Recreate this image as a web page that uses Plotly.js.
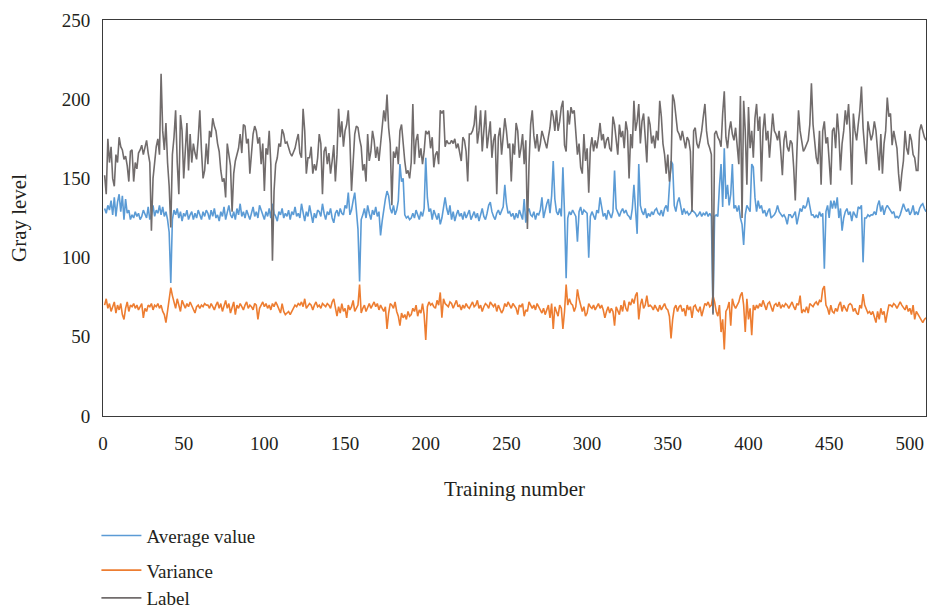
<!DOCTYPE html>
<html>
<head>
<meta charset="utf-8">
<script src="https://cdn.plot.ly/plotly-3.0.1.min.js"></script>
<style>
  html, body { margin: 0; padding: 0; background: #ffffff; }
  #chart { width: 929px; height: 610px; }
</style>
</head>
<body>
<div id="chart"></div>
<script>
// Training number ticks and gray level ticks
const xTicks = [0, 50, 100, 150, 200, 250, 300, 350, 400, 450, 500];
const yTicks = [0, 50, 100, 150, 200, 250];

// Average value (blue), training numbers 1..510
const averageValue = [
  131,128,133,130,136,127,138,126,135,140,129,139,124,137,128,130,124,127,125,129,
  126,128,124,126,130,127,125,132,124,127,133,126,130,128,133,127,132,126,129,124,
  116,84,124,130,127,131,125,129,123,128,126,130,124,127,129,124,128,125,130,127,
  124,129,126,130,
  128,124,130,126,131,125,127,123,129,126,132,124,128,133,127,125,129,124,131,127,
  134,126,129,125,130,127,124,128,132,126,129,125,133,130,127,124,129,126,131,125,
  134,128,126,123,129,127,131,125,128,126,130,124,129,127,132,126,128,125,134,127,
  123,129,126,
  133,127,122,128,125,130,129,126,134,128,124,129,127,131,125,122,128,130,126,131,
  128,127,133,131,141,127,130,136,141,130,118,85,124,127,131,125,133,128,124,130,
  127,132,126,129,114,123,131,137,142,139,131,128,133,127,130,136,159,148,150,127,
  125,126,124,125,
  128,125,130,127,124,129,126,131,163,138,129,131,124,130,127,124,128,121,125,133,
  138,131,127,133,124,129,123,127,130,126,128,124,129,125,127,130,124,126,129,125,
  128,123,127,131,126,124,128,133,135,129,126,124,128,130,127,129,132,146,134,128,
  129,126,128,124,
  128,125,130,127,124,137,122,129,131,127,126,129,124,128,127,130,138,125,130,134,
  137,128,139,161,137,129,127,131,126,157,128,87,125,129,127,130,128,126,110,129,
  132,127,130,129,128,100,126,129,127,124,130,128,138,131,126,128,124,130,127,125,
  129,155,131,128,
  126,129,131,128,130,127,126,124,131,146,129,115,159,133,129,127,131,125,128,126,
  129,127,130,131,128,127,130,126,131,133,129,146,161,159,133,129,135,138,133,127,
  131,128,129,127,128,130,129,128,126,127,129,126,128,127,129,126,128,126,65,126,
  127,126,145,159,
  132,169,137,146,133,140,159,131,133,129,133,125,121,108,127,133,131,129,159,157,
  138,129,136,131,133,128,130,126,129,131,125,126,127,129,133,129,127,126,127,125,
  121,127,127,125,127,129,121,127,131,129,133,131,133,138,131,127,127,125,127,125,
  129,126,128,
  93,129,133,125,136,131,136,131,138,125,131,117,125,129,131,127,129,123,129,127,
  125,132,131,133,97,125,125,127,126,127,127,129,127,133,136,129,133,127,131,133,
  131,129,128,129,125,126,125,127,131,134,131,129,131,127,129,133,127,129,127,131,
  133,134,131,129
];

// Variance (orange)
const varianceValue = [
  70,74,68,71,66,69,72,65,70,67,71,64,61,68,72,66,70,69,71,68,
  70,67,69,71,62,68,66,70,69,71,67,70,69,71,68,70,66,64,59,67,
  72,81,76,72,68,74,70,66,73,70,68,71,69,72,70,67,65,69,70,68,
  70,69,71,70,
  70,68,71,69,67,70,72,68,71,66,70,73,68,71,65,69,72,64,70,68,
  71,69,67,70,72,68,70,69,67,71,70,61,68,70,72,69,71,68,70,67,
  71,69,72,70,68,65,71,66,64,65,66,64,66,68,70,69,71,70,72,69,
  74,68,70,
  71,70,67,70,72,69,70,68,71,70,69,71,70,68,72,74,67,63,69,65,
  71,66,68,62,70,67,69,73,66,68,70,83,65,68,70,66,69,71,68,70,
  72,69,71,67,70,68,66,69,55,65,71,70,68,72,66,63,57,65,62,64,
  61,66,63,64,
  68,66,70,63,67,65,71,64,48,69,72,70,71,69,68,73,70,78,62,74,
  71,70,69,72,71,68,70,73,69,70,67,70,68,71,69,68,70,72,69,70,
  73,68,70,66,69,71,70,68,72,70,69,71,66,70,68,65,67,71,69,72,
  70,68,71,69,
  68,64,70,69,71,63,67,66,72,70,68,70,67,71,69,66,65,68,64,67,
  70,62,71,55,69,66,63,70,68,55,66,83,70,74,71,70,66,69,80,74,
  70,66,69,63,65,71,69,68,70,67,69,71,68,70,67,62,66,69,65,68,
  66,57,69,67,
  64,70,66,73,68,66,72,70,74,71,76,78,61,70,74,68,70,76,69,70,
  69,67,70,68,66,70,67,69,71,68,67,63,49,61,68,70,66,69,70,66,
  68,63,70,67,69,62,69,70,67,66,69,63,68,71,70,72,69,70,76,72,
  66,63,70,53,
  61,42,66,68,72,57,74,70,68,70,72,76,78,70,53,74,61,68,51,70,
  67,70,68,71,69,73,70,67,71,72,69,66,70,71,69,72,68,70,69,71,
  70,68,70,72,69,67,71,70,76,65,67,66,69,65,71,70,69,71,72,70,
  73,72,80,
  82,70,68,64,70,66,65,68,66,70,72,66,70,68,66,70,71,70,66,68,
  65,64,70,68,77,70,68,65,66,64,66,62,59,66,61,68,64,66,59,65,
  70,70,69,71,70,68,70,72,70,68,67,70,66,68,64,70,61,66,64,62,
  60,59,61,62
];

// Label (gray)
const labelValue = [
  152,140,175,160,170,150,145,165,160,176,170,168,162,164,158,148,167,168,148,160,
  156,166,168,171,165,170,174,166,160,117,150,160,170,175,165,216,180,168,185,160,
  145,119,165,176,193,160,140,190,180,150,168,185,155,178,160,172,166,162,175,193,
  168,150,155,172,
  159,180,176,188,183,180,172,167,155,148,150,138,172,165,158,129,153,161,165,169,
  178,166,184,183,172,175,153,165,178,183,180,172,176,159,172,142,169,165,180,159,
  98,142,159,163,172,170,181,178,172,173,169,166,164,166,169,174,178,166,163,194,
  180,153,163,
  163,170,153,159,155,163,178,172,140,167,170,159,166,153,161,171,148,165,194,176,
  186,170,180,184,193,174,142,165,178,183,182,175,170,155,159,148,178,161,167,180,
  174,163,170,161,172,180,193,186,203,182,172,133,167,163,170,159,180,184,170,161,
  153,155,150,160,
  197,159,174,178,163,169,159,167,180,178,180,169,176,157,165,167,159,193,191,193,
  170,174,172,172,174,172,175,169,172,167,161,176,174,167,148,178,178,180,184,196,
  172,180,193,167,180,193,169,176,186,163,174,178,140,176,182,165,178,188,180,169,
  172,148,172,165,
  185,180,163,169,178,159,174,118,159,184,193,177,169,178,167,172,180,176,172,169,
  176,182,193,189,180,193,180,186,195,199,171,167,193,184,195,191,193,180,165,172,
  157,153,178,161,169,141,169,176,167,174,169,176,185,174,178,169,174,176,169,167,
  189,184,172,165,
  184,176,180,169,186,180,150,178,169,199,180,186,197,172,186,191,176,160,189,184,
  172,177,169,180,174,199,189,172,165,153,165,148,157,203,199,189,180,178,174,180,
  174,169,176,174,167,129,180,182,172,169,174,180,189,197,180,172,169,165,64,178,
  180,176,174,170,
  191,205,176,169,180,186,178,174,182,169,159,202,125,199,180,146,195,169,180,163,
  188,197,180,189,148,180,191,174,180,163,178,191,180,178,174,180,167,152,174,180,
  170,167,174,172,157,136,167,193,180,172,167,169,172,174,184,210,184,174,163,159,
  180,146,180,
  186,172,176,159,146,180,182,169,191,178,155,172,180,193,184,197,178,146,191,180,
  174,184,193,208,182,169,159,186,180,174,178,186,180,167,155,178,153,172,180,201,
  189,191,171,180,174,169,153,142,153,161,180,169,165,178,174,165,163,155,155,180,
  184,180,176,174
];

const seriesNames = ['Average value', 'Variance', 'Label'];
const seriesColors = ['#5b9bd5', '#ed7d31', '#716c6c'];
const seriesData = [averageValue, varianceValue, labelValue];
const groups = ['a', 'b', 'b'];

const serif = 'Liberation Serif, Times New Roman, serif';
const textColor = '#231f20';

const traces = seriesData.map((vals, i) => ({
  type: 'scatter',
  mode: 'lines',
  name: seriesNames[i],
  y: vals,
  x0: 1,
  dx: 1,
  legendgroup: groups[i],
  line: { color: seriesColors[i], width: 1.6 },
  hoverinfo: 'skip'
}));

const layout = {
  width: 929,
  height: 610,
  margin: { l: 103, r: 3, t: 20, b: 194, autoexpand: false },
  paper_bgcolor: '#ffffff',
  plot_bgcolor: '#ffffff',
  showlegend: true,
  font: { family: serif, color: textColor },
  xaxis: {
    range: [0, 510],
    tickvals: xTicks,
    ticktext: xTicks.map(String),
    showgrid: false,
    zeroline: false,
    showline: true,
    mirror: true,
    linecolor: '#3a3a3a',
    linewidth: 1,
    ticks: '',
    automargin: false,
    ticklabelstandoff: 10,
    tickfont: { family: serif, size: 19, color: textColor },
    title: { text: 'Training number', font: { family: serif, size: 21, color: textColor }, standoff: 28 }
  },
  yaxis: {
    range: [0, 250],
    tickvals: yTicks,
    ticktext: yTicks.map(String),
    showgrid: false,
    zeroline: false,
    showline: true,
    mirror: true,
    linecolor: '#3a3a3a',
    linewidth: 1,
    ticks: '',
    automargin: false,
    ticklabelstandoff: 8,
    tickfont: { family: serif, size: 19, color: textColor },
    title: { text: 'Gray level', font: { family: serif, size: 21, color: textColor }, standoff: 29 }
  },
  legend: {
    orientation: 'v',
    x: -0.008,
    xanchor: 'left',
    y: -0.254,
    yanchor: 'top',
    traceorder: 'grouped',
    tracegroupgap: 7,
    itemwidth: 40,
    font: { family: serif, size: 19, color: textColor },
    bgcolor: 'rgba(0,0,0,0)'
  }
};

Plotly.newPlot('chart', traces, layout, { staticPlot: true, displayModeBar: false });
</script>
</body>
</html>
